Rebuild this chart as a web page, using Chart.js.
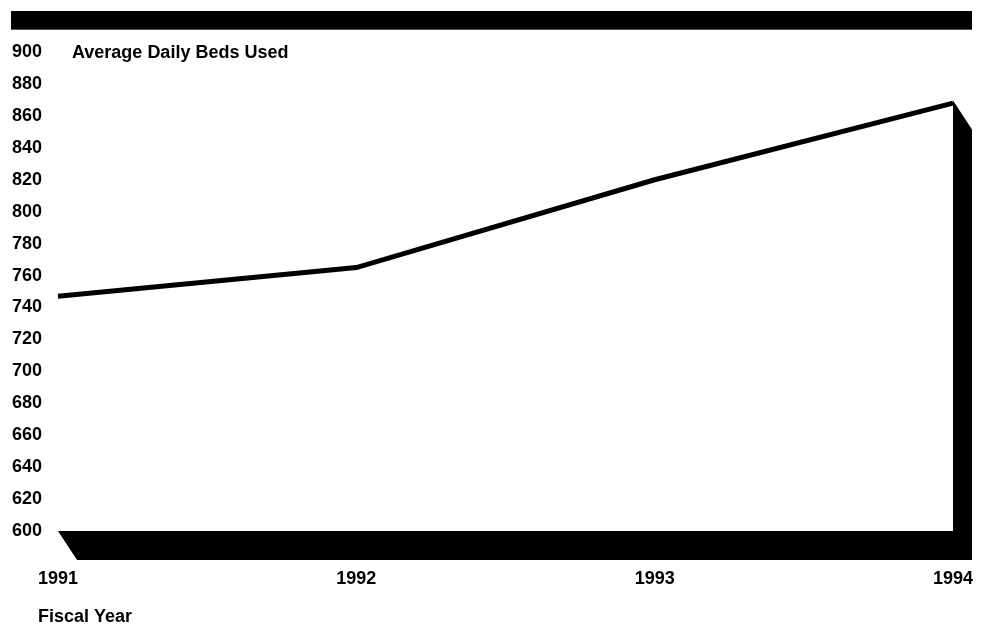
<!DOCTYPE html>
<html>
<head>
<meta charset="utf-8">
<script src="https://cdn.jsdelivr.net/npm/chart.js@4.4.0/dist/chart.umd.min.js"></script>
<style>
  html, body { margin: 0; padding: 0; background: #fff; }
  #wrap { width: 989px; height: 625px; }
</style>
</head>
<body>
<div id="wrap"><canvas id="bedsChart" width="989" height="625"></canvas></div>
<script>
var years = ['1991', '1992', '1993', '1994'];
var bedsUsed = [747, 765, 820, 868];
var yMin = 600, yMax = 900, yStep = 20;

var FONT = 'Arial, "Liberation Sans", sans-serif';
var DX = 19, DY = 29;

// black frame: top bar, floor and right wall drawn from the chart area
var frame = {
    id: 'frame',
    beforeDatasetsDraw: function (chart) {
        var c = chart.ctx, a = chart.chartArea;
        var y = chart.scales.y;
        var topWall = y.getPixelForValue(bedsUsed[bedsUsed.length - 1]) - 2.5;
        c.save();
        c.fillStyle = '#000';
        // top bar
        c.fillRect(11, 11, a.right + DX - 11, 18);
        c.fillStyle = '#555';
        c.fillRect(11, 29, a.right + DX - 11, 1);
        // floor + wall
        c.fillStyle = '#000';
        c.beginPath();
        c.moveTo(a.left, a.bottom);
        c.lineTo(a.right, a.bottom);
        c.lineTo(a.right, topWall);
        c.lineTo(a.right + DX, topWall + DY);
        c.lineTo(a.right + DX, a.bottom + DY);
        c.lineTo(a.left + DX, a.bottom + DY);
        c.closePath();
        c.fill();
        // texts
        c.font = 'bold 18px ' + FONT;
        c.textBaseline = 'middle';
        c.textAlign = 'left';
        c.fillText('Average Daily Beds Used', 72, y.getPixelForValue(yMax) + 1);
        c.fillText('Fiscal Year', 38, 617);
        c.restore();
    }
};

var ctx = document.getElementById('bedsChart').getContext('2d');
var myChart = new Chart(ctx, {
    type: 'line',
    data: {
        labels: years,
        datasets: [{
            label: 'Average Daily Beds Used',
            data: bedsUsed,
            borderColor: '#000',
            borderWidth: 5,
            borderJoinStyle: 'miter',
            borderCapStyle: 'butt',
            pointRadius: 0,
            tension: 0,
            fill: false
        }]
    },
    options: {
        responsive: false,
        animation: false,
        layout: { padding: { left: 12, right: 36, top: 52, bottom: 0 } },
        plugins: {
            legend: { display: false },
            tooltip: { enabled: false },
            title: { display: false }
        },
        scales: {
            x: {
                offset: false,
                grid: { display: false, drawTicks: false },
                border: { display: false },
                ticks: {
                    color: '#000',
                    font: { family: FONT, size: 18, weight: 'bold' },
                    padding: 37,
                    maxRotation: 0,
                    autoSkip: false
                },
                afterFit: function (s) {
                    s.height = 94;
                    s.paddingLeft = 0;
                    s.paddingRight = 0;
                }
            },
            y: {
                min: yMin,
                max: yMax,
                grid: { display: false, drawTicks: false },
                border: { display: false },
                ticks: {
                    stepSize: yStep,
                    color: '#000',
                    crossAlign: 'far',
                    font: { family: FONT, size: 18, weight: 'bold' }
                },
                afterFit: function (s) { s.width = 46; }
            }
        }
    },
    plugins: [frame]
});
</script>
</body>
</html>
